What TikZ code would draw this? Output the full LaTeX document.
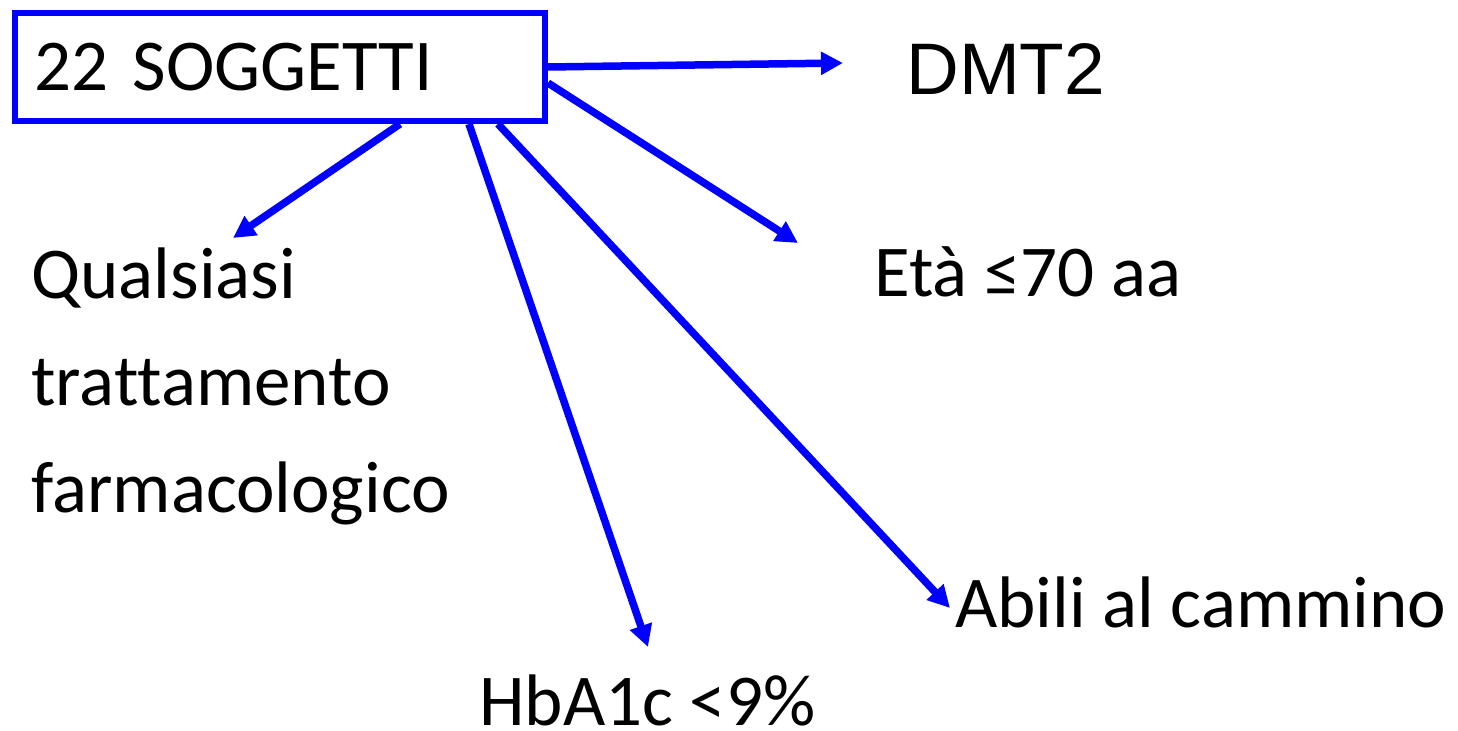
\documentclass[tikz,border=0pt]{standalone}
\usepackage{fontspec}
\setmainfont[Ligatures=NoCommon]{Carlito}
\newfontfamily\arialfont{Liberation Sans}
\usetikzlibrary{arrows.meta,calc}
\definecolor{pblue}{RGB}{0,0,255}
\tikzset{
  arr/.style={draw=pblue, line width=3.75pt, -{Triangle[length=11pt,width=11pt]}},
  lbl/.style={inner sep=0pt, anchor=base west, font=\fontsize{36.5}{53.5}\selectfont, align=left},
  boxst/.style={draw=pblue, line width=3pt, anchor=north west, minimum width=265pt, minimum height=54pt,
     inner xsep=9.5pt, inner ysep=0pt, text width=245.5pt, align=left, text height=26pt, text depth=2pt,
     font=\fontsize{36.5}{44}\selectfont}
}
\begin{document}
\begin{tikzpicture}[x=0.5pt,y=-0.5pt]
\useasboundingbox[fill=white] (0,0) rectangle (1458,731);
\node[boxst] (box) at (12,10) {\mbox{22 SOGGETTI}};
\node[lbl, font=\arialfont\fontsize{36.5}{44}\selectfont] (dmt) at (906,95) {DMT2};
\node[lbl] (qual) at (31,513) {Qualsiasi\\trattamento\\farmacologico};
\node[lbl] (eta) at (874,297) {Età ≤70 aa};
\node[lbl] (hba) at (479,726) {HbA1c <9\%};
\node[lbl] (abili) at (955,628) {Abili al cammino};
\coordinate (t1) at (843,63);
\coordinate (t2) at (798,243);
\coordinate (t3) at (233,238);
\coordinate (t4) at (648,647);
\coordinate (t5) at (950,608);
\draw[arr] (box.east) -- (t1);
\draw[arr] ([yshift=-8pt]box.east) -- (t2);
\draw[arr] ([xshift=194pt]box.south west) -- (t3);
\draw[arr] ([xshift=228.5pt]box.south west) -- (t4);
\draw[arr] ([xshift=243pt]box.south west) -- (t5);
\end{tikzpicture}
\end{document}
